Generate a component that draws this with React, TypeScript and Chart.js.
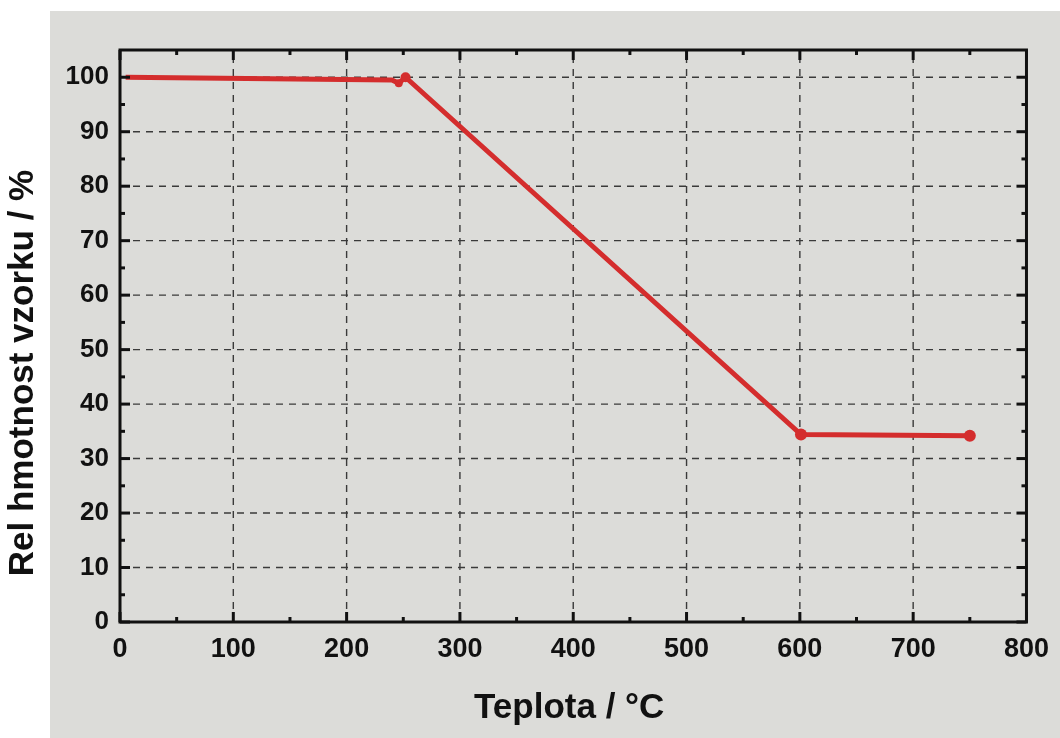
import React, { useEffect, useRef } from "react";
import { Chart, registerables } from "chart.js";

Chart.register(...registerables);

// ---- data ----
const TEMPERATURE = [5, 240, 246, 252, 601, 750];
const REL_MASS = [100, 99.5, 98.9, 100.0, 34.4, 34.2];
const POINT_SIZES = [0, 0, 4, 5, 6, 6];

const X_TICKS = [0, 100, 200, 300, 400, 500, 600, 700, 800];
const Y_TICKS = [0, 10, 20, 30, 40, 50, 60, 70, 80, 90, 100];
const X_MINOR = [50, 150, 250, 350, 450, 550, 650, 750];
const Y_MINOR = [5, 15, 25, 35, 45, 55, 65, 75, 85, 95];

const X_TITLE = "Teplota / °C";
const Y_TITLE = "Rel hmotnost vzorku / %";

const FONT = "'Liberation Sans', Arial, sans-serif";

const backgroundPlugin = {
  id: "paper",
  beforeDraw(chart: any) {
    const ctx = chart.ctx;
    ctx.save();
    ctx.fillStyle = "#ffffff";
    ctx.fillRect(0, 0, chart.width, chart.height);
    ctx.fillStyle = "#dcdcd9";
    ctx.fillRect(50, 11, chart.width - 50, chart.height - 11);
    ctx.restore();
  },
};

const gridPlugin = {
  id: "dashGrid",
  beforeDatasetsDraw(chart: any) {
    const { ctx, chartArea: a, scales } = chart;
    const xs = scales.x;
    const ys = scales.y;
    ctx.save();
    ctx.strokeStyle = "#3a3a3a";
    ctx.lineWidth = 1.4;
    ctx.setLineDash([7, 6]);
    X_TICKS.forEach((v) => {
      const px = xs.getPixelForValue(v);
      if (px <= a.left + 2 || px >= a.right - 2) return;
      ctx.beginPath();
      ctx.moveTo(px, a.bottom);
      ctx.lineTo(px, a.top);
      ctx.stroke();
    });
    Y_TICKS.forEach((v) => {
      const py = ys.getPixelForValue(v);
      if (py >= a.bottom - 2 || py <= a.top + 2) return;
      ctx.beginPath();
      ctx.moveTo(a.left, py);
      ctx.lineTo(a.right, py);
      ctx.stroke();
    });
    ctx.restore();
  },
};

const framePlugin = {
  id: "frameTicks",
  afterDatasetsDraw(chart: any) {
    const { ctx, chartArea: a, scales } = chart;
    const xs = scales.x;
    const ys = scales.y;
    ctx.save();
    ctx.setLineDash([]);
    ctx.strokeStyle = "#111111";
    ctx.lineWidth = 3;
    ctx.strokeRect(a.left, a.top, a.right - a.left, a.bottom - a.top);
    const tick = (x1: number, y1: number, x2: number, y2: number) => {
      ctx.beginPath();
      ctx.moveTo(x1, y1);
      ctx.lineTo(x2, y2);
      ctx.stroke();
    };
    ctx.lineWidth = 3;
    X_TICKS.forEach((v) => {
      const px = xs.getPixelForValue(v);
      tick(px, a.bottom, px, a.bottom - 10);
      tick(px, a.top, px, a.top + 10);
    });
    X_MINOR.forEach((v) => {
      const px = xs.getPixelForValue(v);
      tick(px, a.bottom, px, a.bottom - 5);
      tick(px, a.top, px, a.top + 5);
    });
    Y_TICKS.forEach((v) => {
      const py = ys.getPixelForValue(v);
      tick(a.left, py, a.left + 10, py);
      tick(a.right, py, a.right - 10, py);
    });
    Y_MINOR.forEach((v) => {
      const py = ys.getPixelForValue(v);
      tick(a.left, py, a.left + 5, py);
      tick(a.right, py, a.right - 5, py);
    });
    ctx.restore();
  },
};

const titlePlugin = {
  id: "axisTitles",
  afterDraw(chart: any) {
    const ctx = chart.ctx;
    const a = chart.chartArea;
    ctx.save();
    ctx.fillStyle = "#111111";
    ctx.textAlign = "center";
    ctx.textBaseline = "alphabetic";
    ctx.font = `bold 35px ${FONT}`;
    ctx.fillText(X_TITLE, (a.left + a.right) / 2 - 4, 718);
    ctx.translate(33, 373);
    ctx.rotate(-Math.PI / 2);
    ctx.font = `bold 35px ${FONT}`;
    ctx.fillText(Y_TITLE, 0, 0);
    ctx.restore();
  },
};

export default function App() {
  const ref = useRef<HTMLCanvasElement | null>(null);

  useEffect(() => {
    if (!ref.current) return;
    const chart = new Chart(ref.current, {
      type: "scatter",
      data: {
        datasets: [
          {
            label: "Rel hmotnost",
            data: TEMPERATURE.map((t, i) => ({ x: t, y: REL_MASS[i] })),
            showLine: true,
            borderColor: "#d42d2d",
            backgroundColor: "#d42d2d",
            borderWidth: 5,
            pointRadius: POINT_SIZES,
            pointBorderWidth: 0,
            tension: 0,
          },
        ],
      },
      options: {
        responsive: false,
        animation: false,
        devicePixelRatio: 1,
        layout: { padding: { left: 0, right: 28, top: 50, bottom: 0 } },
        plugins: {
          legend: { display: false },
          tooltip: { enabled: false },
        },
        scales: {
          x: {
            type: "linear",
            min: 0,
            max: 800,
            afterBuildTicks: (s: any) => {
              s.ticks = X_TICKS.map((v) => ({ value: v }));
            },
            afterFit: (s: any) => {
              s.height = 116;
            },
            grid: { display: false, drawTicks: false },
            border: { display: false },
            ticks: {
              padding: 11,
              color: "#111111",
              font: { family: FONT, size: 27, weight: "bold" },
              maxRotation: 0,
            },
          },
          y: {
            type: "linear",
            min: 0,
            max: 105,
            afterBuildTicks: (s: any) => {
              s.ticks = Y_TICKS.map((v) => ({ value: v }));
            },
            afterFit: (s: any) => {
              s.width = 120;
            },
            grid: { display: false, drawTicks: false },
            border: { display: false },
            ticks: {
              padding: 11,
              color: "#111111",
              font: { family: FONT, size: 26, weight: "bold" },
            },
          },
        },
      },
      plugins: [backgroundPlugin, gridPlugin, framePlugin, titlePlugin],
    });
    return () => chart.destroy();
  }, []);

  return (
    <div style={{ position: "fixed", left: 0, top: 0, width: 1060, height: 738 }}>
      <canvas ref={ref} width={1060} height={738} />
    </div>
  );
}
